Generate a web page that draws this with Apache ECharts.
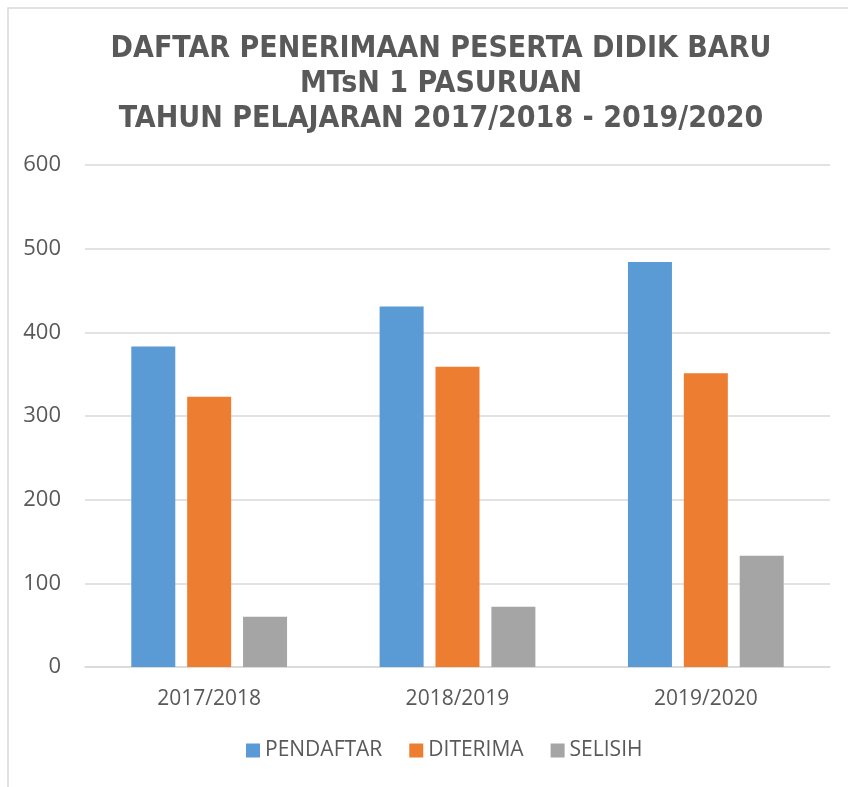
<!DOCTYPE html>
<html>
<head>
<meta charset="utf-8">
<script src="https://cdn.jsdelivr.net/npm/echarts@6/dist/echarts.min.js"></script>
<style>
  html, body { margin: 0; padding: 0; background: #fff; }
  #chart { width: 848px; height: 787px; }
</style>
</head>
<body>
<div id="chart"></div>
<script>
const categories = ['2017/2018', '2018/2019', '2019/2020'];
const pendaftar = [383, 431, 484];
const diterima = [323, 359, 351];
const selisih = [60, 72, 133];

const chartDom = document.getElementById('chart');
const myChart = echarts.init(chartDom);

const textColor = '#595959';

const makeSeries = (name, data, color) => ({
  name: name,
  type: 'bar',
  data: data,
  barWidth: 44,
  barGap: '27%',
  itemStyle: { color: color }
});

myChart.setOption({
  animation: false,
  textStyle: { fontFamily: 'Open Sans' },
  graphic: [{
    type: 'rect',
    shape: { x: 8, y: 8, width: 860, height: 800 },
    style: { fill: 'none', stroke: '#d9d9d9', lineWidth: 1.5 }
  }],
  title: {
    text: 'DAFTAR PENERIMAAN PESERTA DIDIK BARU\nMTsN 1 PASURUAN\nTAHUN PELAJARAN 2017/2018 - 2019/2020',
    left: 436,
    textAlign: 'center',
    top: 27,
    textStyle: {
      fontFamily: 'DejaVu Sans Condensed',
      fontSize: 30,
      fontWeight: 'bold',
      color: textColor,
      lineHeight: 35
    }
  },
  legend: {
    bottom: 21,
    left: 241,
    itemWidth: 14,
    itemHeight: 14,
    itemGap: 27,
    icon: 'rect',
    textStyle: { fontSize: 21, color: textColor }
  },
  grid: { left: 85, right: 18, top: 165, bottom: 120 },
  xAxis: {
    type: 'category',
    data: categories,
    axisTick: { show: false },
    axisLine: { lineStyle: { color: '#d9d9d9', width: 1.5 } },
    axisLabel: { fontSize: 21, color: textColor, margin: 22 }
  },
  yAxis: {
    type: 'value',
    min: 0,
    max: 600,
    interval: 100,
    axisLine: { show: false },
    axisTick: { show: false },
    splitLine: { lineStyle: { color: '#d9d9d9', width: 1.5 } },
    axisLabel: { fontSize: 22, color: textColor, margin: 24 }
  },
  series: [
    makeSeries('PENDAFTAR', pendaftar, '#5B9BD5'),
    makeSeries('DITERIMA', diterima, '#ED7D31'),
    makeSeries('SELISIH', selisih, '#A5A5A5')
  ]
});

window.addEventListener('resize', myChart.resize);
</script>
</body>
</html>
